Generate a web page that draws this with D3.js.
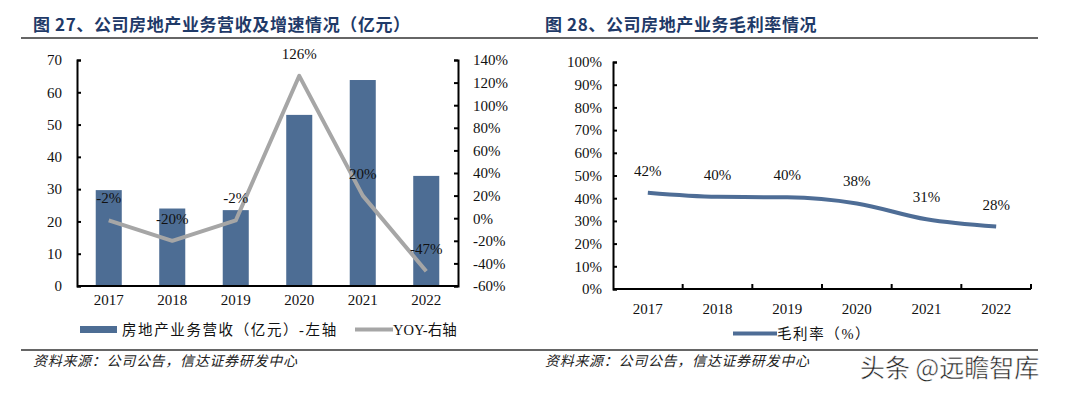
<!DOCTYPE html>
<html lang="zh">
<head>
<meta charset="UTF-8">
<title>房地产业务营收及毛利率</title>
<style>
  body { margin: 0; overflow: hidden; background: #fff; }
  text { font-family: "Liberation Serif", "Noto Sans CJK SC", serif; }
</style>
</head>
<body>
<script src="https://cdnjs.cloudflare.com/ajax/libs/d3/7.8.2/d3.min.js"></script>
<script>
const years = ["2017", "2018", "2019", "2020", "2021", "2022"];
const revenue = [29.7, 24.0, 23.5, 53.0, 63.8, 34.1];      // 亿元
const yoy = [-2, -20, -2, 126, 20, -47];                   // %
const margin = [42.4, 40.6, 40.4, 37.7, 30.7, 27.5];       // %
const marginLabels = ["42%", "40%", "40%", "38%", "31%", "28%"];
const leftTicks = [0, 10, 20, 30, 40, 50, 60, 70];
const rightTicks = [-60, -40, -20, 0, 20, 40, 60, 80, 100, 120, 140];
const pctTicks = [0, 10, 20, 30, 40, 50, 60, 70, 80, 90, 100];

const W = 1080, H = 396;
const svg = d3.select("body").append("svg").attr("width", W).attr("height", H);

const navy = "#1f3a68";
const barColor = "#4d6d94";
const grayLine = "#a6a6a6";
const blueLine = "#4e6d96";
const tickFont = 15;

// titles & rules
svg.append("text").attr("x", 33).attr("y", 31)
  .attr("font-size", 17).attr("font-weight", "bold").attr("fill", navy)
  .attr("letter-spacing", 0.6)
  .style("font-family", "'Noto Sans CJK SC', sans-serif")
  .text("图 27、公司房地产业务营收及增速情况（亿元）");
svg.append("text").attr("x", 545).attr("y", 31)
  .attr("font-size", 17).attr("font-weight", "bold").attr("fill", navy)
  .attr("letter-spacing", 0.6)
  .style("font-family", "'Noto Sans CJK SC', sans-serif")
  .text("图 28、公司房地产业务毛利率情况");
svg.append("line").attr("x1", 21).attr("x2", 1038).attr("y1", 38).attr("y2", 38)
  .attr("stroke", "#333").attr("stroke-width", 1.3);
svg.append("line").attr("x1", 21).attr("x2", 1038).attr("y1", 350).attr("y2", 350)
  .attr("stroke", "#333").attr("stroke-width", 1.3);

svg.append("text").attr("x", 33).attr("y", 366).attr("font-size", 14).attr("fill", "#222")
  .attr("letter-spacing", 0.7)
  .style("font-style", "italic").style("font-family", "'Noto Sans CJK SC', sans-serif")
  .text("资料来源：公司公告，信达证券研发中心");
svg.append("text").attr("x", 545).attr("y", 366).attr("font-size", 14).attr("fill", "#222")
  .attr("letter-spacing", 0.7)
  .style("font-style", "italic").style("font-family", "'Noto Sans CJK SC', sans-serif")
  .text("资料来源：公司公告，信达证券研发中心");

// ---------- chart 1 ----------
const x1 = d3.scaleBand().domain(years).range([77, 458]).paddingInner(0.59).paddingOuter(0.295);
const yL = d3.scaleLinear().domain([0, 70]).range([286, 60]);
const yR = d3.scaleLinear().domain([-60, 140]).range([286, 60]);

const g1 = svg.append("g");
g1.selectAll("rect.bar").data(years).join("rect")
  .attr("x", d => x1(d)).attr("width", x1.bandwidth())
  .attr("y", (d, i) => yL(revenue[i])).attr("height", (d, i) => yL(0) - yL(revenue[i]))
  .attr("fill", barColor);

const cx1 = d => x1(d) + x1.bandwidth() / 2;
g1.append("path").datum(years)
  .attr("fill", "none").attr("stroke", grayLine).attr("stroke-width", 4)
  .attr("stroke-linejoin", "round")
  .attr("d", d3.line().x(d => cx1(d)).y((d, i) => yR(yoy[i])));

g1.selectAll("text.yoy").data(years).join("text")
  .attr("x", d => cx1(d)).attr("y", (d, i) => yR(yoy[i]) - 17)
  .attr("text-anchor", "middle").attr("font-size", tickFont).attr("fill", "#111")
  .text((d, i) => yoy[i] + "%");

const axL = g1.append("g").attr("transform", "translate(77,0)")
  .call(d3.axisRight(yL).tickValues(leftTicks).tickSize(4).tickFormat(d3.format("d")));
axL.selectAll("text").attr("x", -15).attr("text-anchor", "end");
const axR = g1.append("g").attr("transform", "translate(458,0)")
  .call(d3.axisLeft(yR).tickValues(rightTicks).tickSize(4).tickFormat(d => d + "%"));
axR.selectAll("text").attr("x", 15).attr("text-anchor", "start");
const axB1 = g1.append("g").attr("transform", "translate(0,286)")
  .call(d3.axisBottom(x1).tickSize(0));
axB1.selectAll("text").attr("dy", "1.05em");
[axL, axR, axB1].forEach(a => {
  a.select(".domain").attr("stroke", "#000").attr("stroke-width", 2);
  a.selectAll(".tick line").attr("stroke", "#000").attr("stroke-width", 2);
  a.selectAll("text").attr("font-size", tickFont).attr("fill", "#111")
    .style("font-family", "'Liberation Serif', serif");
});
axB1.select(".domain").attr("d", "M77,0H458");

// legend 1
svg.append("rect").attr("x", 80).attr("y", 326).attr("width", 37).attr("height", 7).attr("fill", barColor);
svg.append("text").attr("x", 122).attr("y", 335).attr("font-size", 14.5).attr("fill", "#111")
  .attr("letter-spacing", 1.6)
  .text("房地产业务营收（亿元）-左轴");
svg.append("line").attr("x1", 355).attr("x2", 393).attr("y1", 329.5).attr("y2", 329.5)
  .attr("stroke", grayLine).attr("stroke-width", 4);
svg.append("text").attr("x", 393).attr("y", 335).attr("font-size", 14.5).attr("fill", "#111")
  .text("YOY-右轴");

// ---------- chart 2 ----------
const x2 = d3.scaleBand().domain(years).range([613, 1031]);
const y2 = d3.scaleLinear().domain([0, 100]).range([289, 62]);
const g2 = svg.append("g");
const cx2 = d => x2(d) + x2.bandwidth() / 2;

g2.append("path").datum(years)
  .attr("fill", "none").attr("stroke", blueLine).attr("stroke-width", 4)
  .attr("stroke-linecap", "butt")
  .attr("d", d3.line().curve(d3.curveMonotoneX).x(d => cx2(d)).y((d, i) => y2(margin[i])));

g2.selectAll("text.m").data(years).join("text")
  .attr("x", d => cx2(d)).attr("y", (d, i) => y2(margin[i]) - 17)
  .attr("text-anchor", "middle").attr("font-size", tickFont).attr("fill", "#111")
  .text((d, i) => marginLabels[i]);

const ay2 = g2.append("g").attr("transform", "translate(613,0)")
  .call(d3.axisRight(y2).tickValues(pctTicks).tickSize(4).tickFormat(d => d + "%"));
ay2.selectAll("text").attr("x", -11).attr("text-anchor", "end");
const ax2 = g2.append("g").attr("transform", "translate(0,289)")
  .call(d3.axisBottom(x2).tickSize(0));
ax2.selectAll("text").attr("dy", "1.45em");
// category boundary ticks, pointing up
ax2.selectAll("line.bound").data(years).join("line").attr("class", "bound")
  .attr("x1", d => x2(d) + x2.bandwidth()).attr("x2", d => x2(d) + x2.bandwidth())
  .attr("y1", 0).attr("y2", -5).attr("stroke", "#000").attr("stroke-width", 2);
[ay2, ax2].forEach(a => {
  a.select(".domain").attr("stroke", "#000").attr("stroke-width", 2);
  a.selectAll(".tick line").attr("stroke", "#000").attr("stroke-width", 2);
  a.selectAll("text").attr("font-size", tickFont).attr("fill", "#111")
    .style("font-family", "'Liberation Serif', serif");
});
ax2.select(".domain").attr("d", "M613,0H1031");

// legend 2
svg.append("line").attr("x1", 733).attr("x2", 777).attr("y1", 333.5).attr("y2", 333.5)
  .attr("stroke", blueLine).attr("stroke-width", 4);
svg.append("text").attr("x", 777).attr("y", 339).attr("font-size", 14.5).attr("fill", "#111")
  .attr("letter-spacing", 1.6)
  .text("毛利率（%）");

// watermark
svg.append("text").attr("x", 860).attr("y", 377).attr("font-size", 25).attr("fill", "#222")
  .attr("stroke", "#fff").attr("stroke-width", 0.5)
  .style("font-family", "'Noto Sans CJK SC', sans-serif")
  .text("头条 @远瞻智库");
</script>
</body>
</html>
